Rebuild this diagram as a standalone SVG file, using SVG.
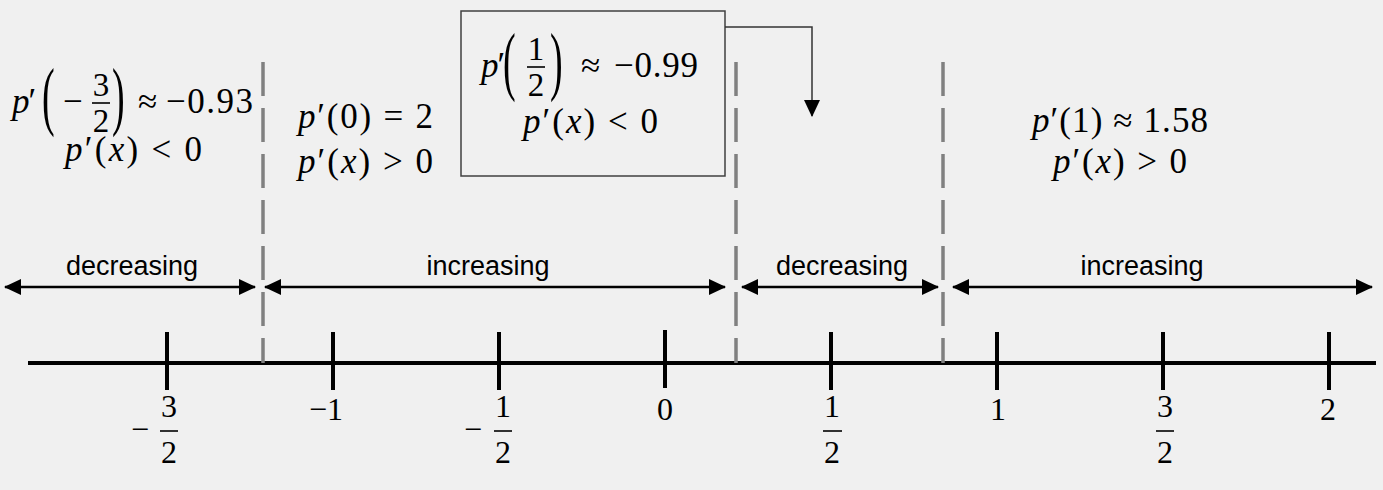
<svg xmlns="http://www.w3.org/2000/svg" width="1383" height="490" viewBox="0 0 1383 490">
<style>
.m{font-family:"Liberation Serif","Times New Roman",serif;font-size:35px;fill:#000}
.f{font-family:"Liberation Serif","Times New Roman",serif;font-size:33px;fill:#000;text-anchor:middle}
.p{font-family:"Liberation Serif","Times New Roman",serif;font-size:76px;fill:#000}
.a{font-family:"Liberation Serif","Times New Roman",serif;font-size:32px;fill:#000}
.i{font-style:italic}
.c{text-anchor:middle}
.lab{font-family:"Liberation Sans",Arial,sans-serif;font-size:27px;fill:#000;text-anchor:middle}
.dash{stroke:#808080;stroke-width:3.5;stroke-dasharray:34 12;fill:none}
.rng{stroke:#000;stroke-width:2.5;fill:none;marker-start:url(#ah);marker-end:url(#ah)}
.tick{stroke:#000;stroke-width:4}
.bar{stroke:#000;stroke-width:1.6}
</style>
<defs>
<marker id="ah" viewBox="0 0 17 16" refX="16" refY="8" markerWidth="17" markerHeight="16" markerUnits="userSpaceOnUse" orient="auto-start-reverse"><path d="M0,0 L17,8 L0,16 z" fill="#000"/></marker>
<marker id="ah2" viewBox="0 0 16 17" refX="8" refY="16" markerWidth="16" markerHeight="17" markerUnits="userSpaceOnUse" orient="0"><path d="M0,0 L16,0 L8,17 z" fill="#000"/></marker>
</defs>
<rect width="1383" height="490" fill="#f0f0f0"/>

<g id="axis">
<line x1="28" y1="363" x2="1376" y2="363" stroke="#000" stroke-width="4"/>
<line class="tick" x1="167" y1="332" x2="167" y2="390"/>
<line class="tick" x1="333" y1="332" x2="333" y2="390"/>
<line class="tick" x1="499" y1="332" x2="499" y2="390"/>
<line class="tick" x1="665" y1="330" x2="665" y2="388"/>
<line class="tick" x1="831" y1="332" x2="831" y2="390"/>
<line class="tick" x1="997" y1="332" x2="997" y2="390"/>
<line class="tick" x1="1163" y1="332" x2="1163" y2="390"/>
<line class="tick" x1="1329" y1="332" x2="1329" y2="390"/>
</g>

<g id="axis-labels">
<text class="a" x="131" y="440">−</text>
<text class="a c" x="169" y="417">3</text>
<line class="bar" x1="160" y1="431" x2="178" y2="431"/>
<text class="a c" x="169" y="463">2</text>
<text class="a c" x="326" y="420">−1</text>
<text class="a" x="464" y="440">−</text>
<text class="a c" x="503" y="417">1</text>
<line class="bar" x1="494" y1="431" x2="512" y2="431"/>
<text class="a c" x="503" y="463">2</text>
<text class="a c" x="665" y="420">0</text>
<text class="a c" x="832" y="417">1</text>
<line class="bar" x1="823" y1="431" x2="842" y2="431"/>
<text class="a c" x="832" y="463">2</text>
<text class="a c" x="998" y="420">1</text>
<text class="a c" x="1165" y="417">3</text>
<line class="bar" x1="1156" y1="431" x2="1174" y2="431"/>
<text class="a c" x="1165" y="463">2</text>
<text class="a c" x="1328" y="420">2</text>
</g>

<g id="dividers">
<line class="dash" x1="263" y1="62" x2="263" y2="363"/>
<line class="dash" x1="736" y1="62" x2="736" y2="363"/>
<line class="dash" x1="943" y1="62" x2="943" y2="363"/>
</g>

<g id="ranges">
<line class="rng" x1="5" y1="287" x2="255" y2="287"/>
<line class="rng" x1="265" y1="287" x2="725" y2="287"/>
<line class="rng" x1="742" y1="287" x2="938" y2="287"/>
<line class="rng" x1="953" y1="287" x2="1372" y2="287"/>
<text class="lab" x="132" y="275">decreasing</text>
<text class="lab" x="488" y="275">increasing</text>
<text class="lab" x="842" y="275">decreasing</text>
<text class="lab" x="1142" y="275">increasing</text>
</g>

<g id="node-left">
<text class="m" x="12" y="113"><tspan class="i">p</tspan><tspan dx="-1">′</tspan></text>
<text class="p" transform="translate(42,121) scale(0.5,1)">(</text>
<text class="m" x="63" y="113">−</text>
<text class="f" x="101" y="96">3</text>
<line class="bar" x1="92" y1="103" x2="110" y2="103"/>
<text class="f" x="101" y="132">2</text>
<text class="p" transform="translate(112,121) scale(0.5,1)">)</text>
<text class="m" x="138" y="113">≈</text>
<text class="m" x="166" y="113" textLength="87" lengthAdjust="spacing">−0.93</text>
<text class="m" x="65" y="161" textLength="137" lengthAdjust="spacing"><tspan class="i">p</tspan>′(<tspan class="i">x</tspan>) &lt; 0</text>
</g>

<g id="node-zero">
<text class="m" x="298" y="128" textLength="135" lengthAdjust="spacing"><tspan class="i">p</tspan>′(0) = 2</text>
<text class="m" x="298" y="173" textLength="135" lengthAdjust="spacing"><tspan class="i">p</tspan>′(<tspan class="i">x</tspan>) &gt; 0</text>
</g>

<g id="node-half">
<rect x="461" y="11" width="264" height="165" fill="none" stroke="#404040" stroke-width="1.5"/>
<text class="m" x="481" y="77"><tspan class="i">p</tspan><tspan dx="-1">′</tspan></text>
<text class="p" transform="translate(503,86) scale(0.5,1)">(</text>
<text class="f" x="536" y="60">1</text>
<line class="bar" x1="527" y1="67" x2="545" y2="67"/>
<text class="f" x="536" y="96">2</text>
<text class="p" transform="translate(550,86) scale(0.5,1)">)</text>
<text class="m" x="581" y="77">≈</text>
<text class="m" x="614" y="77" textLength="84" lengthAdjust="spacing">−0.99</text>
<text class="m" x="523" y="133" textLength="135" lengthAdjust="spacing"><tspan class="i">p</tspan>′(<tspan class="i">x</tspan>) &lt; 0</text>
</g>

<g id="node-one">
<text class="m" x="1032" y="132" textLength="176" lengthAdjust="spacing"><tspan class="i">p</tspan>′(1) ≈ 1.58</text>
<text class="m" x="1053" y="173" textLength="134" lengthAdjust="spacing"><tspan class="i">p</tspan>′(<tspan class="i">x</tspan>) &gt; 0</text>
</g>

<g id="connectors">
<path d="M725,27 H812 V116" fill="none" stroke="#333" stroke-width="1.5" marker-end="url(#ah2)"/>
</g>
</svg>
